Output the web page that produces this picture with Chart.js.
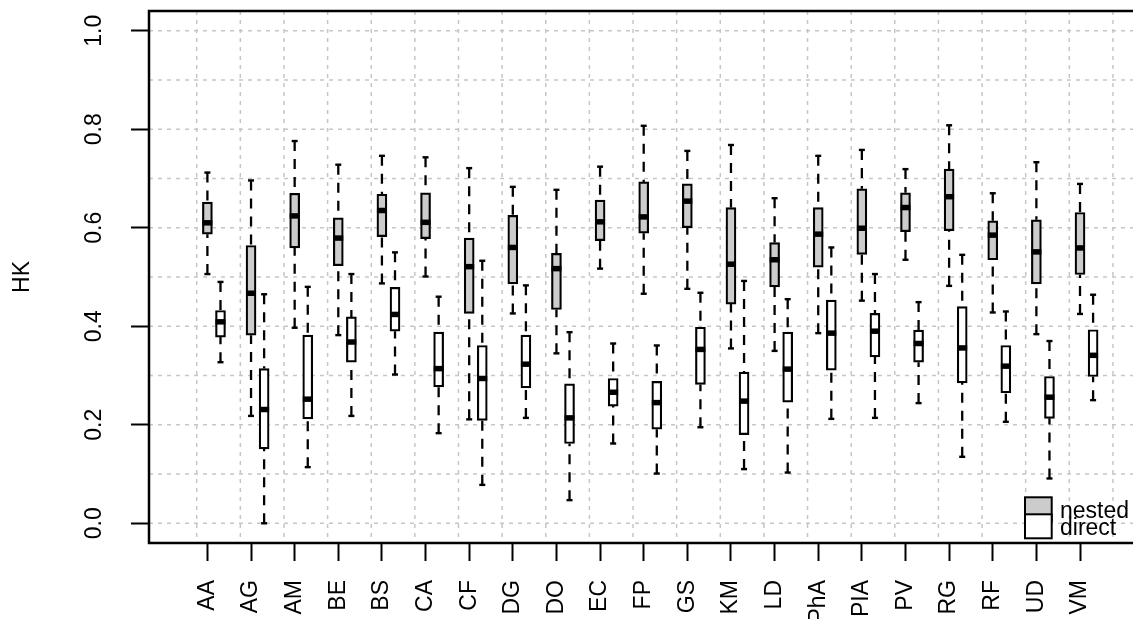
<!DOCTYPE html>
<html>
<head>
<meta charset="utf-8">
<script src="https://cdn.jsdelivr.net/npm/chart.js@4.4.1/dist/chart.umd.min.js"></script>
<style>
html,body{margin:0;padding:0;background:#fff;overflow:hidden}
#wrap{width:1133px;height:619px;position:relative}
</style>
</head>
<body>
<div id="wrap"><canvas id="c" width="1133" height="619"></canvas></div>
<script>
// ---------- data ----------
const categories = ['AA','AG','AM','BE','BS','CA','CF','DG','DO','EC','FP','GS','KM','LD','PhA','PIA','PV','RG','RF','UD','VM'];
const seriesNames = ['nested','direct'];

const nestedLow  = [0.506,0.218,0.397,0.382,0.487,0.501,0.211,0.426,0.345,0.517,0.466,0.476,0.355,0.350,0.386,0.452,0.535,0.482,0.428,0.384,0.425];
const nestedQ1   = [0.587,0.382,0.559,0.523,0.582,0.578,0.426,0.486,0.434,0.574,0.589,0.600,0.445,0.480,0.520,0.546,0.592,0.594,0.535,0.486,0.505];
const nestedMed  = [0.610,0.467,0.624,0.579,0.635,0.611,0.521,0.560,0.517,0.612,0.622,0.654,0.526,0.535,0.587,0.599,0.641,0.663,0.585,0.551,0.559];
const nestedQ3   = [0.652,0.564,0.670,0.620,0.668,0.671,0.579,0.625,0.548,0.656,0.693,0.689,0.641,0.570,0.641,0.679,0.671,0.719,0.614,0.616,0.631];
const nestedHigh = [0.712,0.696,0.776,0.728,0.746,0.743,0.721,0.683,0.677,0.724,0.807,0.756,0.768,0.660,0.746,0.758,0.719,0.808,0.670,0.733,0.689];

const directLow  = [0.327,0.000,0.114,0.218,0.302,0.183,0.078,0.214,0.047,0.162,0.101,0.195,0.110,0.103,0.212,0.214,0.244,0.135,0.206,0.091,0.250];
const directQ1   = [0.378,0.151,0.212,0.327,0.390,0.277,0.209,0.275,0.162,0.238,0.191,0.282,0.180,0.246,0.311,0.338,0.327,0.285,0.265,0.213,0.298];
const directMed  = [0.409,0.231,0.252,0.368,0.424,0.314,0.294,0.323,0.214,0.266,0.245,0.353,0.248,0.313,0.386,0.390,0.365,0.356,0.319,0.256,0.341];
const directQ3   = [0.432,0.314,0.382,0.419,0.479,0.388,0.361,0.382,0.283,0.294,0.288,0.398,0.307,0.388,0.453,0.426,0.392,0.440,0.361,0.298,0.393];
const directHigh = [0.490,0.465,0.480,0.506,0.550,0.460,0.533,0.483,0.388,0.365,0.361,0.468,0.492,0.455,0.560,0.506,0.449,0.545,0.430,0.370,0.464];

const yTickValues = [0, 0.2, 0.4, 0.6, 0.8, 1.0];
const yTickLabels = ['0.0','0.2','0.4','0.6','0.8','1.0'];
const yTitle = 'HK';

// ---------- styling / layout ----------
const FONT = '"Liberation Sans", Arial, Helvetica, sans-serif';
const FS = 23;
const BOX_W = 10;
const groups = [
  {name: seriesNames[0], offset: 0,   fill: '#cccccc', low: nestedLow, q1: nestedQ1, med: nestedMed, q3: nestedQ3, high: nestedHigh},
  {name: seriesNames[1], offset: 0.3, fill: '#ffffff', low: directLow, q1: directQ1, med: directMed, q3: directQ3, high: directHigh}
];

function line(ctx, x1, y1, x2, y2) { ctx.beginPath(); ctx.moveTo(x1, y1); ctx.lineTo(x2, y2); ctx.stroke(); }

const boxExtras = {
  id: 'boxExtras',
  beforeDatasetsDraw(chart) {
    const {ctx, chartArea: a, scales: {x, y}} = chart;
    // dotted grid
    ctx.save();
    ctx.beginPath(); ctx.rect(a.left, a.top, a.right - a.left, a.bottom - a.top); ctx.clip();
    ctx.strokeStyle = '#c6c6c6'; ctx.lineWidth = 1.5; ctx.setLineDash([4, 5]);
    for (let k = 0; k <= 10; k++) {
      const py = y.getPixelForValue(k / 10);
      line(ctx, a.left, py, a.right, py);
    }
    for (let k = 0; k <= categories.length + 1; k++) {
      const px = x.getPixelForValue(k + 0.755);
      line(ctx, px, a.top, px, a.bottom);
    }
    ctx.restore();
    // whiskers
    ctx.save();
    ctx.strokeStyle = '#000';
    groups.forEach(g => {
      categories.forEach((c, i) => {
        const px = x.getPixelForValue(i + 1 + g.offset);
        ctx.lineWidth = 2.3; ctx.setLineDash([10, 8]); ctx.lineCap = 'butt';
        line(ctx, px, y.getPixelForValue(g.low[i]), px, y.getPixelForValue(g.q1[i]));
        line(ctx, px, y.getPixelForValue(g.high[i]), px, y.getPixelForValue(g.q3[i]));
        ctx.setLineDash([]); ctx.lineWidth = 2.4;
        const yl = y.getPixelForValue(g.low[i]), yh = y.getPixelForValue(g.high[i]);
        line(ctx, px - 3, yl, px + 3, yl);
        line(ctx, px - 3, yh, px + 3, yh);
      });
    });
    ctx.restore();
  },
  afterDatasetsDraw(chart) {
    const {ctx, scales: {x, y}} = chart;
    ctx.save();
    ctx.strokeStyle = '#000'; ctx.lineWidth = 5.5; ctx.lineCap = 'butt';
    groups.forEach(g => {
      categories.forEach((c, i) => {
        const px = x.getPixelForValue(i + 1 + g.offset);
        const py = y.getPixelForValue(g.med[i]);
        line(ctx, px - BOX_W / 2, py, px + BOX_W / 2, py);
      });
    });
    ctx.restore();
  },
  afterDraw(chart) {
    const {ctx, chartArea: a} = chart;
    ctx.save();
    // frame (right side falls outside the picture)
    ctx.strokeStyle = '#000'; ctx.lineWidth = 2.5;
    ctx.beginPath();
    ctx.moveTo(a.right + 2, a.top); ctx.lineTo(a.left, a.top); ctx.lineTo(a.left, a.bottom); ctx.lineTo(a.right + 2, a.bottom);
    ctx.stroke();
    // legend
    const lx = 1025, lw = 26.7;
    const rows = [{top: 497.3, base: 517.7}, {top: 514.3, base: 535}];
    ctx.lineWidth = 2;
    groups.forEach((g, k) => {
      ctx.fillStyle = g.fill;
      ctx.fillRect(lx, rows[k].top, lw, 24);
      ctx.strokeRect(lx, rows[k].top, lw, 24);
    });
    ctx.fillStyle = '#000';
    ctx.font = FS + 'px ' + FONT;
    ctx.textAlign = 'left'; ctx.textBaseline = 'alphabetic';
    groups.forEach((g, k) => ctx.fillText(g.name, 1060, rows[k].base));
    ctx.restore();
  }
};

new Chart(document.getElementById('c'), {
  type: 'bar',
  data: {
    datasets: groups.map(g => ({
      label: g.name,
      data: categories.map((c, i) => ({x: i + 1 + g.offset, y: [g.q1[i], g.q3[i]]})),
      backgroundColor: g.fill,
      borderColor: '#000',
      borderWidth: 2.2,
      borderSkipped: false,
      barThickness: BOX_W,
      grouped: false
    }))
  },
  options: {
    responsive: false,
    animation: false,
    devicePixelRatio: 1,
    events: [],
    layout: {padding: {top: 11, right: 0, left: 0, bottom: 0}},
    plugins: {legend: {display: false}, tooltip: {enabled: false}},
    scales: {
      x: {
        type: 'linear',
        offset: false,
        bounds: 'data',
        min: -0.3385,
        max: 22.2145,
        afterBuildTicks: s => { s.ticks = categories.map((c, i) => ({value: i + 1})); },
        afterFit: s => { s.height = 76; s.paddingLeft = 0; s.paddingRight = 0; },
        ticks: {
          autoSkip: false, minRotation: 90, maxRotation: 90, padding: 19,
          color: '#000', font: {family: FONT, size: FS},
          callback: (v, idx) => categories[idx]
        },
        grid: {display: true, offset: false, drawOnChartArea: false, drawTicks: true, tickLength: 18, tickColor: '#000', tickWidth: 2},
        border: {display: false}
      },
      y: {
        type: 'linear',
        bounds: 'data',
        min: -0.04,
        max: 1.04,
        afterBuildTicks: s => { s.ticks = yTickValues.map(v => ({value: v})); },
        afterFit: s => { s.width = 149; s.paddingTop = 0; s.paddingBottom = 0; },
        ticks: {
          minRotation: 90, maxRotation: 90, crossAlign: 'center', padding: 20,
          color: '#000', font: {family: FONT, size: FS},
          callback: (v, idx) => yTickLabels[idx]
        },
        grid: {display: true, offset: false, drawOnChartArea: false, drawTicks: true, tickLength: 18, tickColor: '#000', tickWidth: 2},
        border: {display: false},
        title: {display: true, text: yTitle, color: '#000', font: {family: FONT, size: FS}, padding: {top: 9, bottom: 0}}
      }
    }
  },
  plugins: [boxExtras]
});
</script>
</body>
</html>
